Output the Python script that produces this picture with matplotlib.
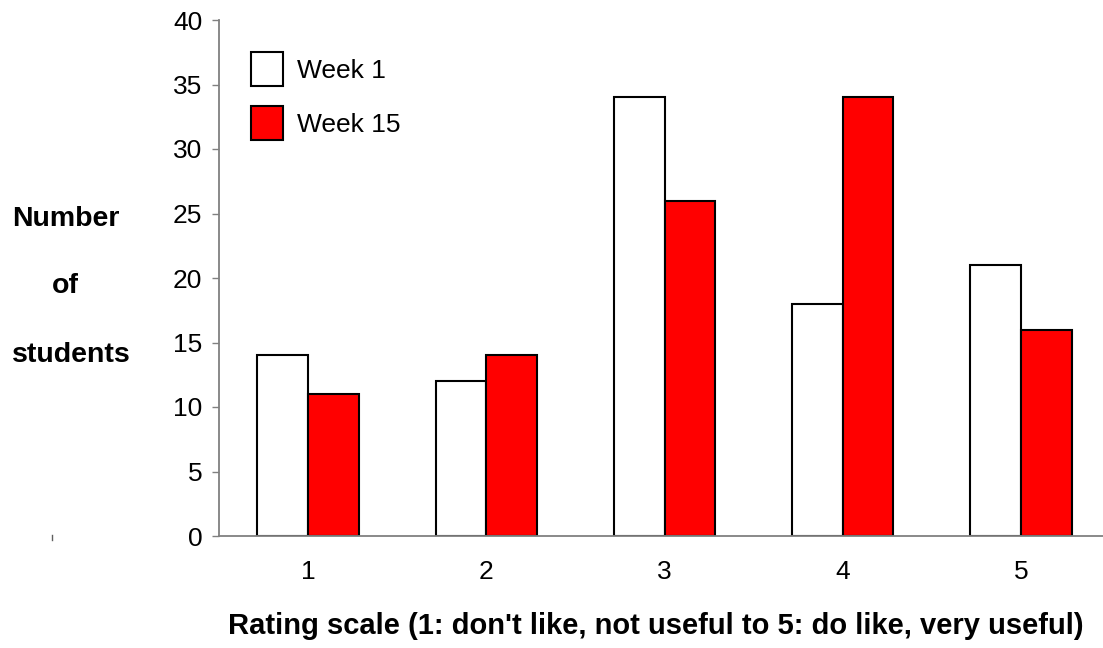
import numpy as np
import matplotlib.pyplot as plt
from matplotlib.patches import Patch
from matplotlib.lines import Line2D

plt.rcParams['font.family'] = ['Liberation Sans', 'DejaVu Sans']

ratings = ['1', '2', '3', '4', '5']
week1 = [14, 12, 34, 18, 21]
week15 = [11, 14, 26, 34, 16]

W, H = 1103, 648
fig = plt.figure(figsize=(W / 100, H / 100), dpi=100)
# axes placed in pixel coords; right edge runs past the figure like the original
ax = fig.add_axes([219 / W, (H - 536) / H, 891 / W, 516 / H])

x = np.arange(1, len(ratings) + 1)
bw = 0.285
ax.bar(x - bw / 2, week1, bw, color='white', edgecolor='black', linewidth=1.5, label='Week 1')
ax.bar(x + bw / 2, week15, bw, color='#ff0000', edgecolor='black', linewidth=1.5, label='Week 15')

ax.set_xlim(0.5, 5.5)
ax.set_ylim(0, 40)
ax.set_yticks(range(0, 41, 5))
ax.set_xticks(x)
ax.set_xticklabels(ratings)
ax.tick_params(axis='y', length=5, width=1, color='#808080', labelsize=19, pad=7)
ax.tick_params(axis='x', length=0, labelsize=19, pad=17)
for s in ['top', 'right']:
    ax.spines[s].set_visible(False)
for s in ['left', 'bottom']:
    ax.spines[s].set_color('#808080')
    ax.spines[s].set_linewidth(1.3)

handles = [Patch(facecolor='white', edgecolor='black', linewidth=1.5),
           Patch(facecolor='#ff0000', edgecolor='black', linewidth=1.5)]
ax.legend(handles, ['Week 1', 'Week 15'], loc='upper left',
          bbox_to_anchor=(32 / 891, 484 / 516), frameon=False, fontsize=19,
          handlelength=1.2, handleheight=1.6, handletextpad=0.55, labelspacing=0.78,
          borderpad=0, borderaxespad=0)

# y label split over three lines
for txt, xp, yp in [('Number', 66, 226), ('of', 65, 293), ('students', 71, 362)]:
    fig.text(xp / W, 1 - yp / H, txt, ha='center', va='baseline',
             fontsize=20.5, fontweight='bold')
fig.text(656 / W, 1 - 634 / H,
         "Rating scale (1: don't like, not useful to 5: do like, very useful)",
         ha='center', va='baseline', fontsize=21, fontweight='bold')
fig.add_artist(Line2D([52 / W, 52 / W], [1 - 535 / H, 1 - 540 / H],
                      color='#606060', linewidth=1))

fig.savefig('out.png', dpi=100)
